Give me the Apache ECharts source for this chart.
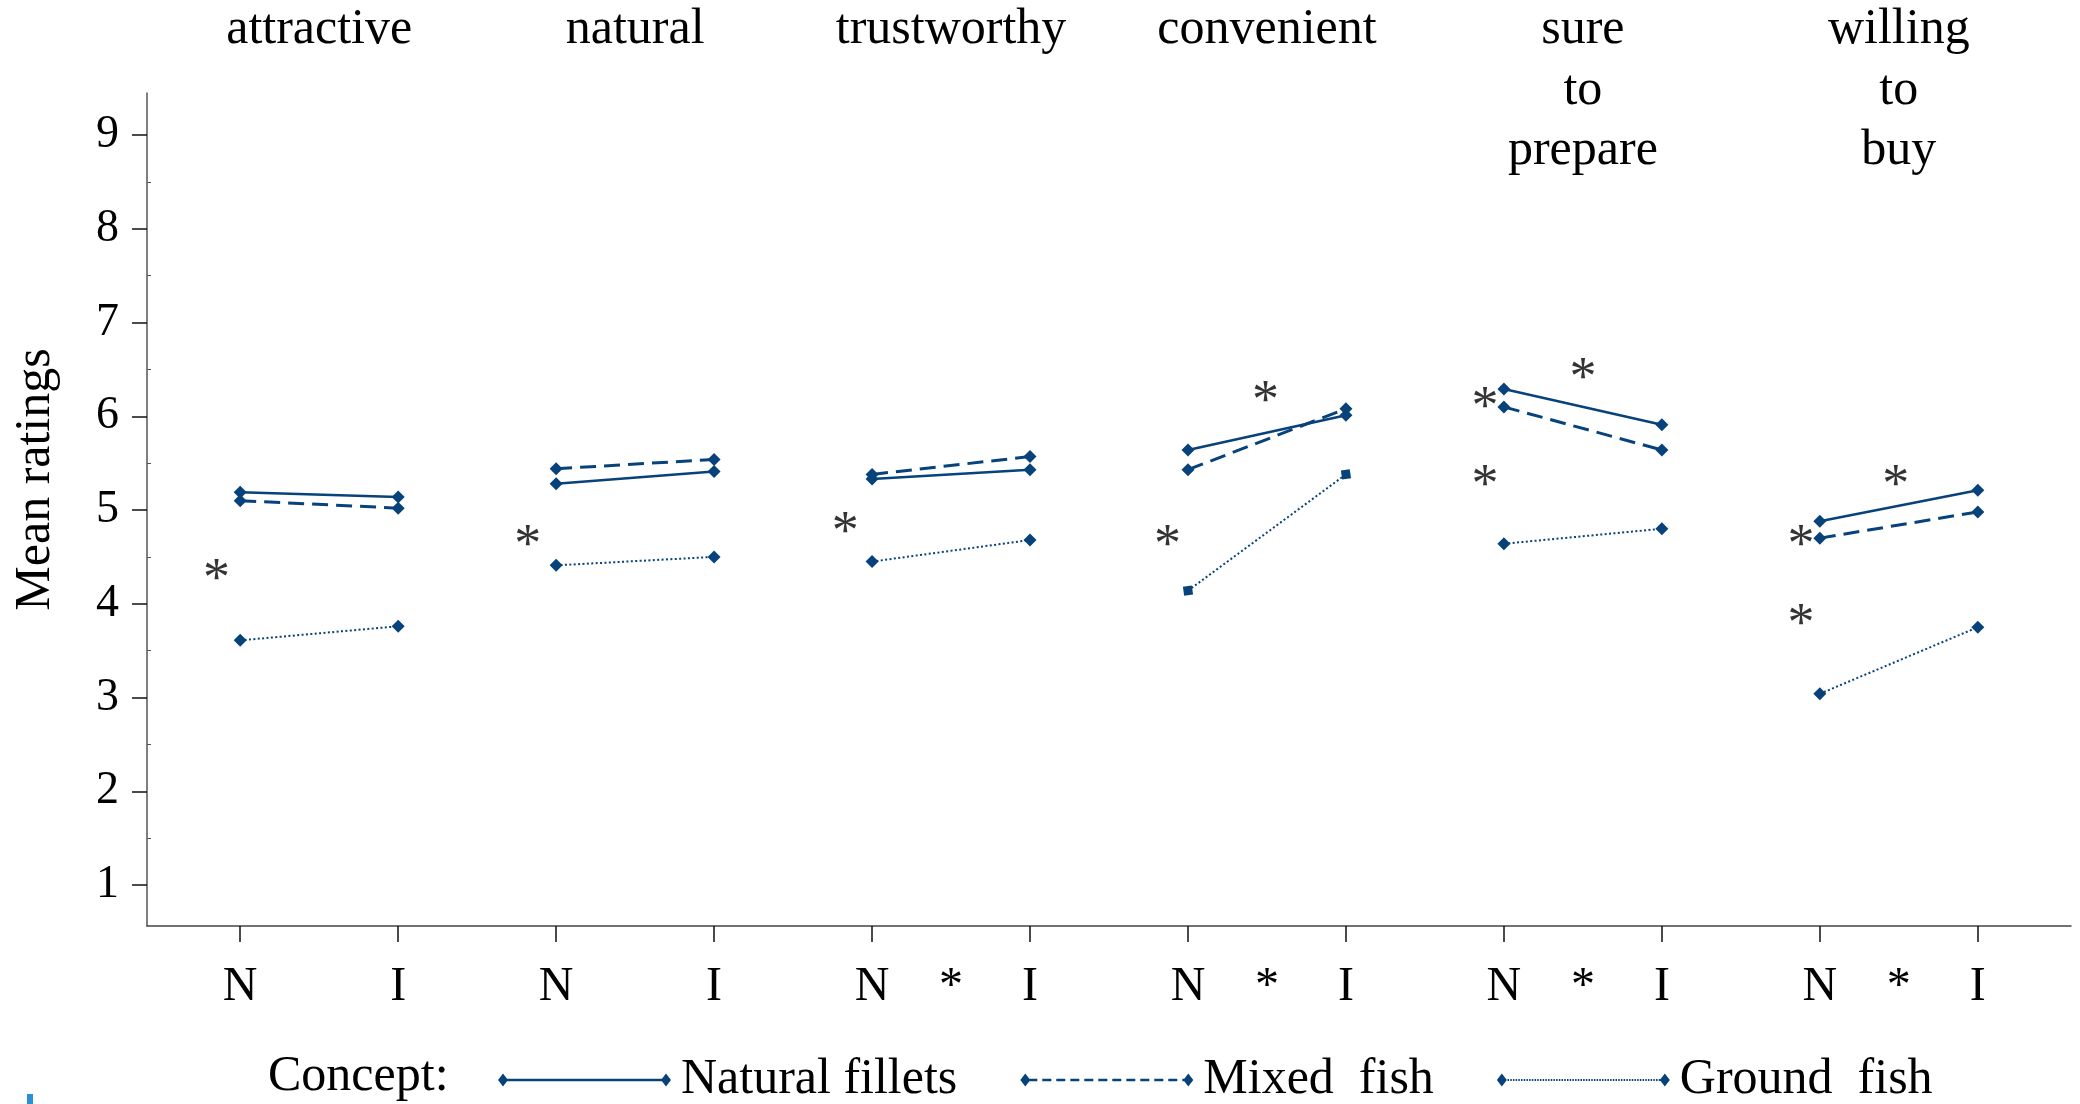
<!DOCTYPE html>
<html>
<head>
<meta charset="utf-8">
<script src="https://cdn.jsdelivr.net/npm/echarts@6/dist/echarts.min.js"></script>
<style>
  html, body { margin: 0; padding: 0; background: #fff; }
  #chart { width: 2080px; height: 1104px; }
</style>
</head>
<body>
<div id="chart"></div>
<script>
// Rated attributes (one pair of N / I columns each)
const attributes = ['attractive', 'natural', 'trustworthy', 'convenient', 'sure\nto\nprepare', 'willing\nto\nbuy'];
const conditions = ['N', 'I'];
// attributes with a significant N vs I difference (star between the two columns)
const conditionStar = [false, false, true, true, true, true];

// Mean ratings per attribute: [N, I]
const naturalFillets = [[5.19, 5.14], [5.28, 5.41], [5.33, 5.43], [5.64, 6.01], [6.29, 5.91], [4.88, 5.21]];
const mixedFish      = [[5.10, 5.02], [5.44, 5.54], [5.38, 5.57], [5.43, 6.08], [6.10, 5.64], [4.70, 4.98]];
const groundFish     = [[3.61, 3.76], [4.41, 4.50], [4.45, 4.68], [4.14, 5.38], [4.64, 4.80], [3.04, 3.75]];

const ratingTicks = [1, 2, 3, 4, 5, 6, 7, 8, 9];

// Significance stars between concepts: [position on the N/I scale, rating]
const starMarks = [
  [-0.15, 4.36], [1.82, 4.73], [3.83, 4.86], [5.87, 4.73], [6.49, 6.26],
  [7.88, 6.20], [7.88, 5.36], [8.50, 6.51], [9.88, 4.73], [9.88, 3.88], [10.48, 5.36]
];

const FONT = '"Liberation Serif", "Times New Roman", Times, serif';
const BLUE = '#07437a';

// column positions: N of attribute g at 2g, I at 2g + 1
const colTicks = [];
attributes.forEach((a, g) => { colTicks.push(2 * g, 2 * g + 1); });
const labelValues = colTicks.slice();
conditionStar.forEach((s, g) => { if (s) labelValues.push(2 * g + 0.5); });
const titleValues = attributes.map((a, g) => 2 * g + 0.5);

function pairData(pairs, squareGroup) {
  const out = [];
  pairs.forEach((p, g) => {
    p.forEach((v, k) => {
      const item = { value: [2 * g + k, v] };
      if (g === squareGroup) {
        item.symbol = 'rect';
        item.symbolSize = 9;
        item.symbolRotate = 8;
      }
      out.push(item);
    });
    if (g < pairs.length - 1) out.push({ value: [2 * g + 1.5, '-'] });
  });
  return out;
}

// legend key: diamond - line - diamond
function keyIcon(pattern) {
  const W = 173, H = 13, cy = 6.5;
  let d = 'M0 ' + cy + 'L5 0L10 ' + cy + 'L5 ' + H + 'Z' +
          'M' + (W - 10) + ' ' + cy + 'L' + (W - 5) + ' 0L' + W + ' ' + cy + 'L' + (W - 5) + ' ' + H + 'Z';
  const x0 = 5, x1 = W - 5;
  if (!pattern) {
    d += 'M' + x0 + ' ' + (cy - 1.2) + 'H' + x1 + 'V' + (cy + 1.2) + 'H' + x0 + 'Z';
  } else {
    const dash = pattern[0], gap = pattern[1], t = pattern[2];
    for (let x = x0 + 3; x < x1 - 3; x += dash + gap) {
      const e = Math.min(x + dash, x1 - 3);
      d += 'M' + x + ' ' + (cy - t / 2) + 'H' + e + 'V' + (cy + t / 2) + 'H' + x + 'Z';
    }
  }
  return 'path://' + d;
}

const X_MIN = -0.59, X_MAX = 11.59;
const Y_MIN = 0.563, Y_MAX = 9.448;

const chart = echarts.init(document.getElementById('chart'), null, { renderer: 'canvas' });

chart.setOption({
  animation: false,
  backgroundColor: '#fff',
  grid: { left: 147, right: 9, top: 93, bottom: 178 },
  xAxis: [
    {
      type: 'value', min: X_MIN, max: X_MAX, position: 'bottom',
      axisLine: { show: true, onZero: false, lineStyle: { color: '#444', width: 1.5 } },
      axisTick: { show: true, customValues: colTicks, length: 16, lineStyle: { color: '#111', width: 1.5 } },
      axisLabel: {
        customValues: labelValues,
        formatter: v => Number.isInteger(v) ? conditions[v % 2] : '*',
        fontFamily: FONT, fontSize: 48, color: '#000', margin: 61, verticalAlign: 'middle'
      },
      splitLine: { show: false }
    },
    {
      type: 'value', min: X_MIN, max: X_MAX, position: 'top',
      axisLine: { show: false, onZero: false }, axisTick: { show: false }, splitLine: { show: false },
      axisLabel: {
        customValues: titleValues,
        formatter: v => attributes[Math.round((v - 0.5) / 2)],
        fontFamily: FONT, fontSize: 50, lineHeight: 60.5, color: '#000',
        verticalAlign: 'top', align: 'center', margin: 93
      }
    }
  ],
  yAxis: [
    {
      type: 'value', min: Y_MIN, max: Y_MAX,
      name: 'Mean ratings', nameLocation: 'middle', nameRotate: 90, nameGap: 86,
      nameTextStyle: { fontFamily: FONT, fontSize: 50, color: '#000', padding: [0, 0, 0, 60] },
      axisLine: { show: true, onZero: false, lineStyle: { color: '#555', width: 1.5 } },
      axisTick: { show: true, customValues: ratingTicks, length: 15, lineStyle: { color: '#111', width: 1.5 } },
      axisLabel: { customValues: ratingTicks, fontFamily: FONT, fontSize: 46, color: '#000', margin: 28 },
      splitLine: { show: false }
    },
    {
      type: 'value', min: Y_MIN, max: Y_MAX, position: 'left',
      axisLine: { show: false, onZero: false },
      axisTick: { show: true, inside: true, customValues: ratingTicks.slice(0, -1).map(t => t + 0.5), length: 4, lineStyle: { color: '#555', width: 1 } },
      axisLabel: { show: false },
      splitLine: { show: false }
    }
  ],
  legend: {
    left: 493, top: 1050, orient: 'horizontal',
    itemWidth: 173, itemHeight: 13, itemGap: 63,
    symbolKeepAspect: false, selectedMode: false,
    itemStyle: { borderWidth: 0 },
    textStyle: { fontFamily: FONT, fontSize: 50, color: '#000', padding: [0, 0, 0, 5] },
    data: [
      { name: 'Natural fillets', icon: keyIcon(null) },
      { name: 'Mixed  fish', icon: keyIcon([9, 5, 2.6]) },
      { name: 'Ground  fish', icon: keyIcon([1.5, 1.2, 2]) }
    ]
  },
  graphic: [
    { type: 'text', x: 268, y: 1077, style: { text: 'Concept:', fontFamily: FONT, fontSize: 50, fill: '#000', verticalAlign: 'middle' } },
    { type: 'rect', shape: { x: 27, y: 1094, width: 6, height: 10 }, style: { fill: '#2a8fd4' } }
  ],
  series: [
    {
      name: 'Natural fillets', type: 'line', data: pairData(naturalFillets, -1),
      symbol: 'diamond', symbolSize: 13, connectNulls: false,
      lineStyle: { color: BLUE, width: 2.5, type: 'solid' }, itemStyle: { color: BLUE }, z: 3
    },
    {
      name: 'Mixed  fish', type: 'line', data: pairData(mixedFish, -1),
      symbol: 'diamond', symbolSize: 13, connectNulls: false,
      lineStyle: { color: BLUE, width: 3, type: [16, 8] }, itemStyle: { color: BLUE }, z: 3
    },
    {
      name: 'Ground  fish', type: 'line', data: pairData(groundFish, 3),
      symbol: 'diamond', symbolSize: 13, connectNulls: false,
      lineStyle: { color: BLUE, width: 2, type: [2, 2.4] }, itemStyle: { color: BLUE }, z: 3
    },
    {
      name: 'stars', type: 'scatter', data: starMarks, symbolSize: 0.1, silent: true,
      itemStyle: { color: 'rgba(0,0,0,0)' },
      label: { show: true, position: 'inside', formatter: '*', offset: [0, 11], fontFamily: FONT, fontSize: 54, color: '#000' },
      z: 5
    }
  ]
});
</script>
</body>
</html>
